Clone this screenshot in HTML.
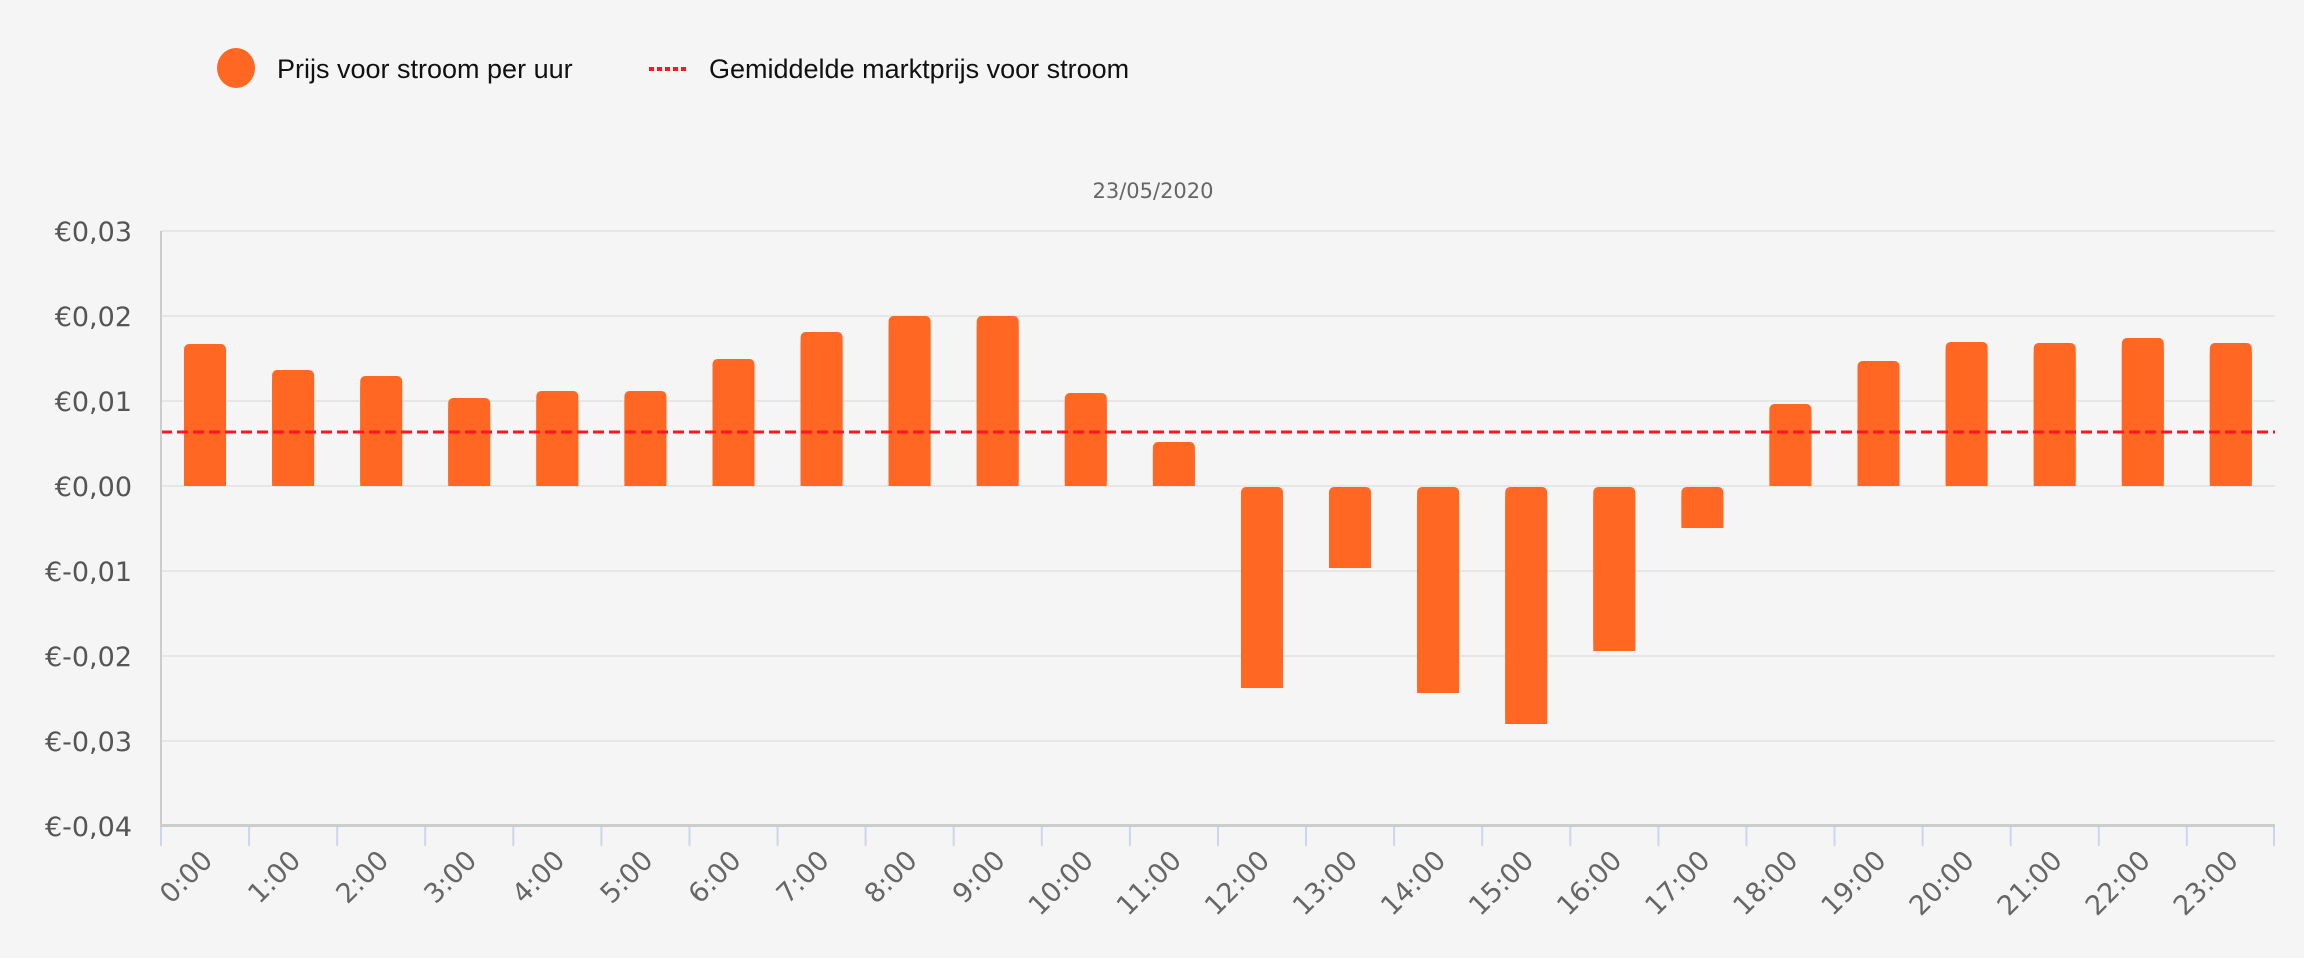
<!DOCTYPE html>
<html><head><meta charset="utf-8"><style>
html,body{margin:0;padding:0;background:#f5f5f5;}
svg{display:block;font-family:"DejaVu Sans","Liberation Sans",sans-serif;}
</style></head><body>
<svg width="2304" height="958" viewBox="0 0 2304 958" xmlns="http://www.w3.org/2000/svg">
<rect width="2304" height="958" fill="#f5f5f5"/>
<!-- legend -->
<ellipse cx="236" cy="68" rx="19" ry="20" fill="#ff6723"/>
<text x="277" y="78" font-family="Liberation Sans, sans-serif" font-size="27" fill="#111">Prijs voor stroom per uur</text>
<line x1="649" y1="69" x2="688" y2="69" stroke="#ff1423" stroke-width="4" stroke-dasharray="5,3"/>
<text x="709" y="78" font-family="Liberation Sans, sans-serif" font-size="27" fill="#111">Gemiddelde marktprijs voor stroom</text>
<text x="1153" y="198" text-anchor="middle" font-size="21" fill="#666">23/05/2020</text>
<!-- grid -->
<g stroke="#e6e6e6" stroke-width="2">
<line x1="161" y1="231" x2="2275" y2="231"/>
<line x1="161" y1="316" x2="2275" y2="316"/>
<line x1="161" y1="401" x2="2275" y2="401"/>
<line x1="161" y1="486" x2="2275" y2="486"/>
<line x1="161" y1="571" x2="2275" y2="571"/>
<line x1="161" y1="656" x2="2275" y2="656"/>
<line x1="161" y1="741" x2="2275" y2="741"/>
</g>
<g font-size="27" fill="#555" text-anchor="end">
<text x="132" y="241">€0,03</text>
<text x="132" y="326">€0,02</text>
<text x="132" y="411">€0,01</text>
<text x="132" y="496">€0,00</text>
<text x="132" y="581">€-0,01</text>
<text x="132" y="666">€-0,02</text>
<text x="132" y="751">€-0,03</text>
<text x="132" y="836">€-0,04</text>
</g>
<!-- bars -->
<g fill="#ff6723">
<rect x="184" y="344" width="42" height="142" rx="5"/><rect x="184" y="354" width="42" height="132"/>
<rect x="272.1" y="370" width="42" height="116" rx="5"/><rect x="272.1" y="380" width="42" height="106"/>
<rect x="360.2" y="376" width="42" height="110" rx="5"/><rect x="360.2" y="386" width="42" height="100"/>
<rect x="448.2" y="398" width="42" height="88" rx="5"/><rect x="448.2" y="408" width="42" height="78"/>
<rect x="536.3" y="391" width="42" height="95" rx="5"/><rect x="536.3" y="401" width="42" height="85"/>
<rect x="624.4" y="391" width="42" height="95" rx="5"/><rect x="624.4" y="401" width="42" height="85"/>
<rect x="712.5" y="359" width="42" height="127" rx="5"/><rect x="712.5" y="369" width="42" height="117"/>
<rect x="800.6" y="332" width="42" height="154" rx="5"/><rect x="800.6" y="342" width="42" height="144"/>
<rect x="888.6" y="316" width="42" height="170" rx="5"/><rect x="888.6" y="326" width="42" height="160"/>
<rect x="976.7" y="316" width="42" height="170" rx="5"/><rect x="976.7" y="326" width="42" height="160"/>
<rect x="1064.8" y="393" width="42" height="93" rx="5"/><rect x="1064.8" y="403" width="42" height="83"/>
<rect x="1152.9" y="442" width="42" height="44" rx="5"/><rect x="1152.9" y="452" width="42" height="34"/>
<rect x="1241" y="487" width="42" height="201" rx="5"/><rect x="1241" y="497" width="42" height="191"/>
<rect x="1329" y="487" width="42" height="81" rx="5"/><rect x="1329" y="497" width="42" height="71"/>
<rect x="1417.1" y="487" width="42" height="206" rx="5"/><rect x="1417.1" y="497" width="42" height="196"/>
<rect x="1505.2" y="487" width="42" height="237" rx="5"/><rect x="1505.2" y="497" width="42" height="227"/>
<rect x="1593.3" y="487" width="42" height="164" rx="5"/><rect x="1593.3" y="497" width="42" height="154"/>
<rect x="1681.4" y="487" width="42" height="41" rx="5"/><rect x="1681.4" y="497" width="42" height="31"/>
<rect x="1769.4" y="404" width="42" height="82" rx="5"/><rect x="1769.4" y="414" width="42" height="72"/>
<rect x="1857.5" y="361" width="42" height="125" rx="5"/><rect x="1857.5" y="371" width="42" height="115"/>
<rect x="1945.6" y="342" width="42" height="144" rx="5"/><rect x="1945.6" y="352" width="42" height="134"/>
<rect x="2033.7" y="343" width="42" height="143" rx="5"/><rect x="2033.7" y="353" width="42" height="133"/>
<rect x="2121.8" y="338" width="42" height="148" rx="5"/><rect x="2121.8" y="348" width="42" height="138"/>
<rect x="2209.8" y="343" width="42" height="143" rx="5"/><rect x="2209.8" y="353" width="42" height="133"/>
</g>
<!-- average line -->
<line x1="161" y1="432" x2="2275" y2="432" stroke="#ff1423" stroke-width="3" stroke-dasharray="11,5"/>
<!-- axes -->
<line x1="161" y1="231" x2="161" y2="826" stroke="#cccccc" stroke-width="2"/>
<line x1="160" y1="825.5" x2="2275" y2="825.5" stroke="#cccccc" stroke-width="3"/>
<g stroke="#ccd6eb" stroke-width="2">
<line x1="161" y1="827" x2="161" y2="846"/><line x1="249.1" y1="827" x2="249.1" y2="846"/><line x1="337.2" y1="827" x2="337.2" y2="846"/><line x1="425.2" y1="827" x2="425.2" y2="846"/><line x1="513.3" y1="827" x2="513.3" y2="846"/><line x1="601.4" y1="827" x2="601.4" y2="846"/><line x1="689.5" y1="827" x2="689.5" y2="846"/><line x1="777.6" y1="827" x2="777.6" y2="846"/><line x1="865.6" y1="827" x2="865.6" y2="846"/><line x1="953.7" y1="827" x2="953.7" y2="846"/><line x1="1041.8" y1="827" x2="1041.8" y2="846"/><line x1="1129.9" y1="827" x2="1129.9" y2="846"/><line x1="1218" y1="827" x2="1218" y2="846"/><line x1="1306" y1="827" x2="1306" y2="846"/><line x1="1394.1" y1="827" x2="1394.1" y2="846"/><line x1="1482.2" y1="827" x2="1482.2" y2="846"/><line x1="1570.3" y1="827" x2="1570.3" y2="846"/><line x1="1658.4" y1="827" x2="1658.4" y2="846"/><line x1="1746.4" y1="827" x2="1746.4" y2="846"/><line x1="1834.5" y1="827" x2="1834.5" y2="846"/><line x1="1922.6" y1="827" x2="1922.6" y2="846"/><line x1="2010.7" y1="827" x2="2010.7" y2="846"/><line x1="2098.8" y1="827" x2="2098.8" y2="846"/><line x1="2186.8" y1="827" x2="2186.8" y2="846"/><line x1="2274" y1="827" x2="2274" y2="846"/>
</g>
<g font-size="27" fill="#666" text-anchor="end">
<text transform="translate(214,862) rotate(-45)">0:00</text>
<text transform="translate(302.1,862) rotate(-45)">1:00</text>
<text transform="translate(390.2,862) rotate(-45)">2:00</text>
<text transform="translate(478.2,862) rotate(-45)">3:00</text>
<text transform="translate(566.3,862) rotate(-45)">4:00</text>
<text transform="translate(654.4,862) rotate(-45)">5:00</text>
<text transform="translate(742.5,862) rotate(-45)">6:00</text>
<text transform="translate(830.6,862) rotate(-45)">7:00</text>
<text transform="translate(918.6,862) rotate(-45)">8:00</text>
<text transform="translate(1006.7,862) rotate(-45)">9:00</text>
<text transform="translate(1094.8,862) rotate(-45)">10:00</text>
<text transform="translate(1182.9,862) rotate(-45)">11:00</text>
<text transform="translate(1271,862) rotate(-45)">12:00</text>
<text transform="translate(1359,862) rotate(-45)">13:00</text>
<text transform="translate(1447.1,862) rotate(-45)">14:00</text>
<text transform="translate(1535.2,862) rotate(-45)">15:00</text>
<text transform="translate(1623.3,862) rotate(-45)">16:00</text>
<text transform="translate(1711.4,862) rotate(-45)">17:00</text>
<text transform="translate(1799.4,862) rotate(-45)">18:00</text>
<text transform="translate(1887.5,862) rotate(-45)">19:00</text>
<text transform="translate(1975.6,862) rotate(-45)">20:00</text>
<text transform="translate(2063.7,862) rotate(-45)">21:00</text>
<text transform="translate(2151.8,862) rotate(-45)">22:00</text>
<text transform="translate(2239.8,862) rotate(-45)">23:00</text>
</g>
</svg>
</body></html>
